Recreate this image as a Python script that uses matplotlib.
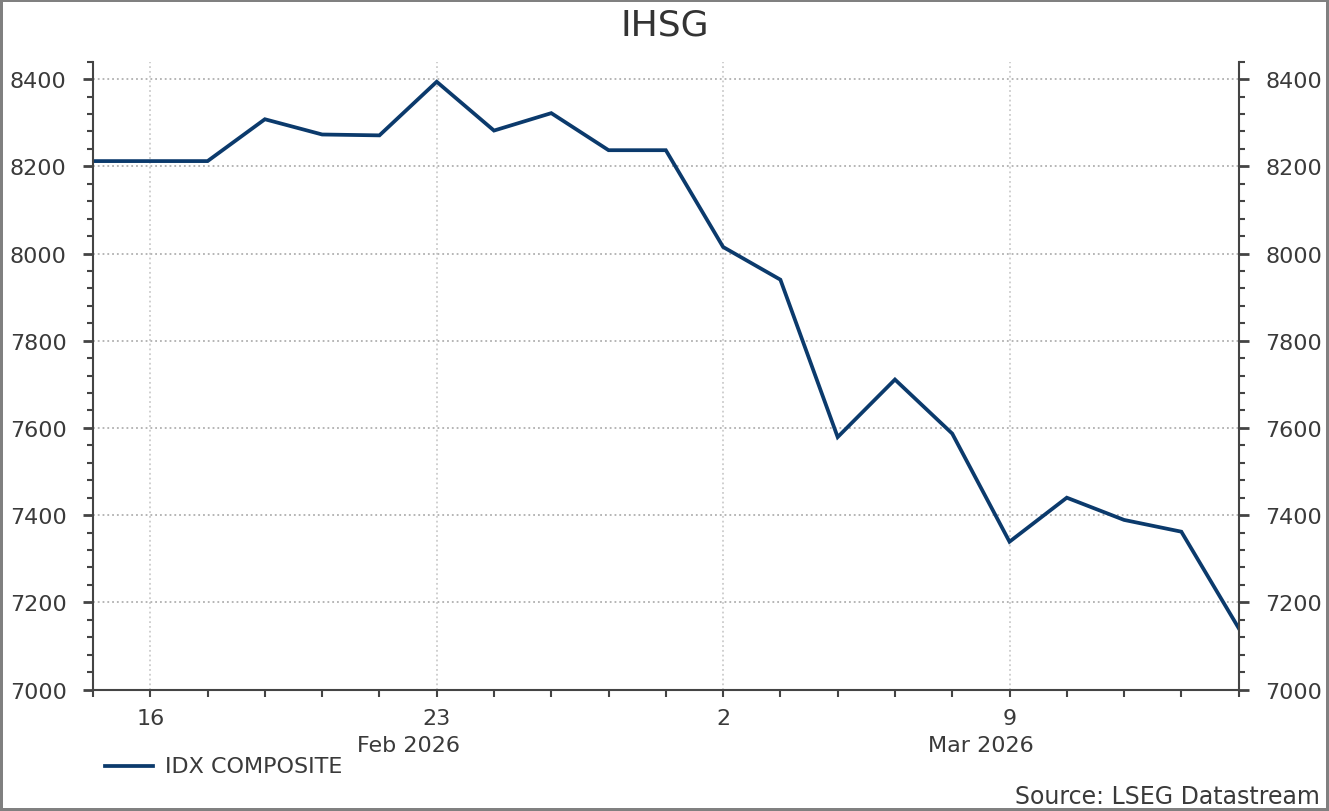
import pandas as pd
import matplotlib
matplotlib.use("Agg")
import matplotlib.pyplot as plt
from matplotlib.ticker import MultipleLocator, FixedLocator
from matplotlib.lines import Line2D

# IDX Composite daily closes (business days)
dates = ['2026-02-13', '2026-02-16', '2026-02-17', '2026-02-18', '2026-02-19',
         '2026-02-20', '2026-02-23', '2026-02-24', '2026-02-25', '2026-02-26',
         '2026-02-27', '2026-03-02', '2026-03-03', '2026-03-04', '2026-03-05',
         '2026-03-06', '2026-03-09', '2026-03-10', '2026-03-11', '2026-03-12',
         '2026-03-13']
values = [8212, 8212, 8212, 8308, 8273,
          8271, 8394, 8282, 8322, 8237,
          8237, 8015, 7940, 7579, 7711,
          7587, 7339, 7440, 7389, 7362,
          7141]
month_labels = ['Feb 2026', 'Mar 2026']
month_anchor = ['2026-02-23', '2026-03-09']
series_name = 'IDX COMPOSITE'

plt.rcParams['font.family'] = 'DejaVu Sans'
txt = '#3a3a3a'
navy = '#0b3a6c'

d = pd.to_datetime(dates)
x = list(range(len(d)))
mondays = [i for i, t in enumerate(d) if t.weekday() == 0]

fig = plt.figure(figsize=(13.29, 8.12), dpi=100, edgecolor='#808080', linewidth=3)
ax = fig.add_axes([0.070, 0.1496, 0.862, 0.7732])

ax.plot(x, values, color=navy, lw=2.7, solid_joinstyle='miter')

ax.set_xlim(0, len(x) - 1)
ax.set_ylim(7000, 8440)

ax.yaxis.set_major_locator(MultipleLocator(200))
ax.yaxis.set_minor_locator(MultipleLocator(40))
ax.xaxis.set_major_locator(FixedLocator(mondays))
ax.xaxis.set_minor_locator(FixedLocator(x))
ax.set_xticklabels([str(d[i].day) for i in mondays])

ax.grid(True, which='major', axis='y', ls=':', color='#b0b0b0', lw=1.3)
ax.grid(True, which='major', axis='x', ls=':', color='#cccccc', lw=1.3)

for s in ['left', 'right', 'bottom']:
    ax.spines[s].set_color('#444444')
    ax.spines[s].set_linewidth(1.5)
ax.spines['top'].set_visible(False)

ax.tick_params(axis='y', which='both', direction='out', left=True, right=True,
               labelleft=True, labelright=True, colors='#444444',
               labelcolor=txt, labelsize=16)
ax.tick_params(axis='y', which='major', length=7, width=2, pad=12)
ax.tick_params(axis='y', which='minor', length=4, width=1.5)
ax.tick_params(axis='x', which='both', direction='out', length=5, width=1.5,
               colors='#444444', labelcolor=txt, labelsize=16, pad=8)

for lab, anc in zip(month_labels, month_anchor):
    i = list(d).index(pd.Timestamp(anc))
    ax.text(i - 0.5, -0.088, lab, transform=ax.get_xaxis_transform(),
            ha='center', va='center', fontsize=16, color=txt)

fig.text(0.5, 0.969, 'IHSG', ha='center', va='center', fontsize=26, color='#333333')

fig.add_artist(Line2D([105 / 1329, 153 / 1329], [1 - 767 / 812, 1 - 767 / 812],
                      color=navy, lw=2.7))
fig.text(165 / 1329, 1 - 767 / 812, series_name, ha='left', va='center',
         fontsize=16, color=txt)
fig.text(1320 / 1329, 1 - 797 / 812, 'Source: LSEG Datastream', ha='right',
         va='center', fontsize=17, color=txt)

fig.savefig('out.png', dpi=100)
